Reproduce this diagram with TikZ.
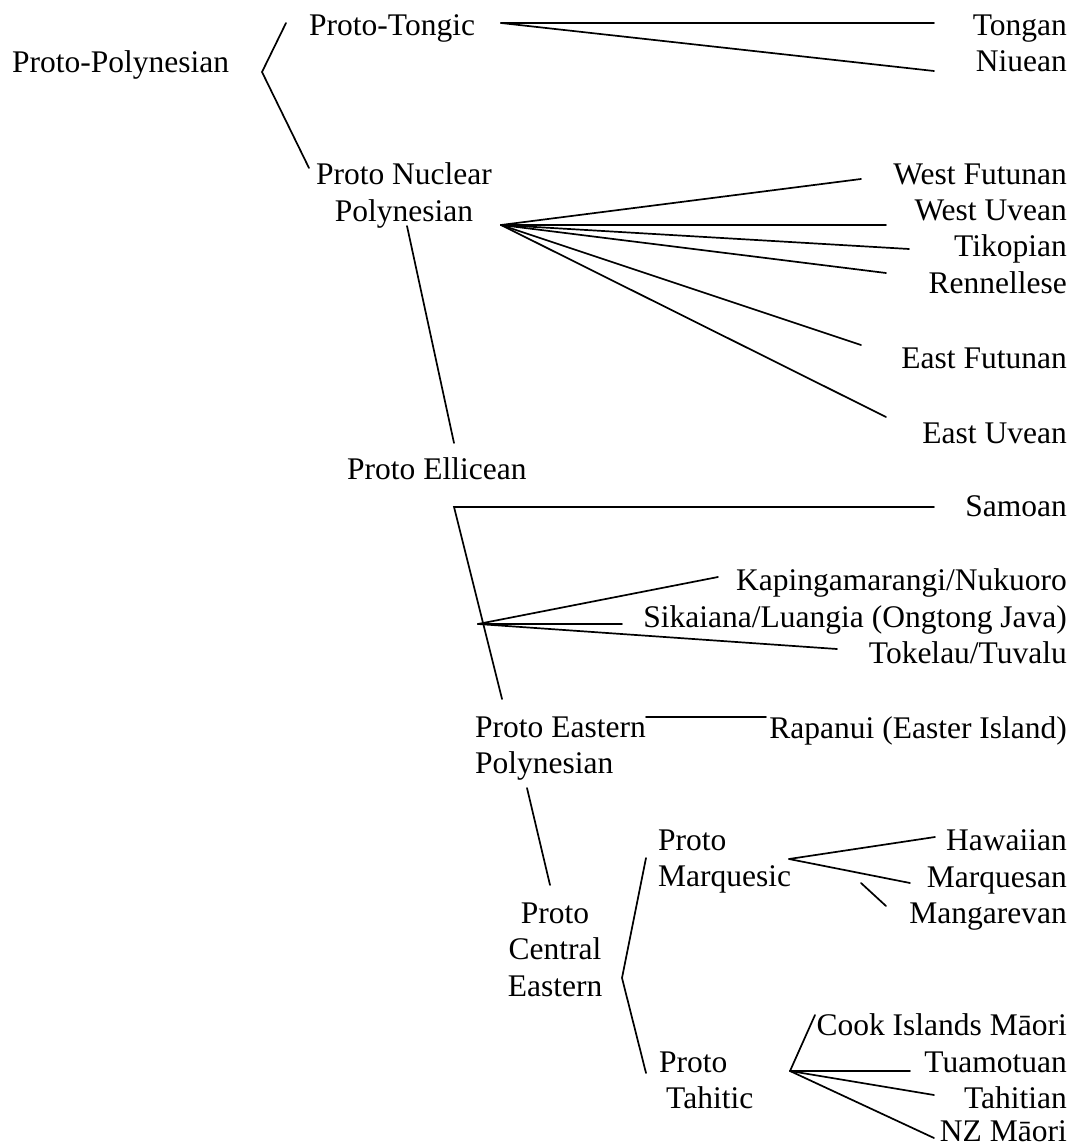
\documentclass[tikz,border=0pt]{standalone}
\usepackage{fontspec}
\setmainfont{Liberation Serif}
\newcommand{\stkc}[1]{\begin{tabular}[t]{@{}c@{}}#1\end{tabular}}
\newcommand{\stkl}[1]{\begin{tabular}[t]{@{}l@{}}#1\end{tabular}}
\tikzset{
  lang/.style={inner sep=0pt, font=\fontsize{31.5}{36.5}\selectfont},
  leaf/.style={lang, anchor=base east},
  branch/.style={line width=1.7pt, line cap=round, line join=miter}
}
\begin{document}
\begin{tikzpicture}[x=1pt,y=-1pt]
\useasboundingbox (0,0) rectangle (1076,1147);
% nodes
\node[lang, anchor=base west] (pp) at (12,73) {Proto-Polynesian};
\node[lang, anchor=base west] (pt) at (309,36) {Proto-Tongic};
\node[leaf] (tongan) at (1067,36) {Tongan};
\node[leaf] (niuean) at (1067,72) {Niuean};
\node[lang, anchor=base] (pnp) at (404,185) {\stkc{Proto Nuclear\\Polynesian}};
\node[leaf] (wf) at (1067,185) {West Futunan};
\node[leaf] (wu) at (1067,221) {West Uvean};
\node[leaf] (tik) at (1067,257) {Tikopian};
\node[leaf] (ren) at (1067,294) {Rennellese};
\node[leaf] (ef) at (1067,368) {East Futunan};
\node[leaf] (eu) at (1067,443) {East Uvean};
\node[lang, anchor=base west] (pe) at (347,479) {Proto Ellicean};
\node[leaf] (sam) at (1067,516) {Samoan};
\node[leaf] (kap) at (1067,590) {Kapingamarangi/Nukuoro};
\node[leaf] (sik) at (1067,627) {Sikaiana/Luangia (Ongtong Java)};
\node[leaf] (tok) at (1067,663) {Tokelau/Tuvalu};
\node[lang, anchor=base west] (pep) at (475,737) {\stkl{Proto Eastern\\Polynesian}};
\node[leaf] (rap) at (1067,738) {Rapanui (Easter Island)};
\node[lang, anchor=base] (pce) at (555,923) {\stkc{Proto\\Central\\Eastern}};
\node[lang, anchor=base west] (pm) at (658,850) {\stkl{Proto\\Marquesic}};
\node[leaf] (haw) at (1067,850) {Hawaiian};
\node[leaf] (mqs) at (1067,887) {Marquesan};
\node[leaf] (mgr) at (1067,923) {Mangarevan};
\node[lang, anchor=base west] (ptah) at (659,1072) {\stkl{Proto\\\hspace*{7pt}Tahitic}};
\node[leaf] (cook) at (1067,1035) {Cook Islands Māori};
\node[leaf] (tua) at (1067,1072) {Tuamotuan};
\node[leaf] (tah) at (1067,1108) {Tahitian};
\node[leaf] (nzm) at (1067,1141) {NZ Māori};
% connector points
\coordinate (ppTop) at (286,23);
\coordinate (ppV) at (262,72);
\coordinate (ppBot) at (309,168);
\coordinate (ptH) at (501,23);
\coordinate (tonE) at (934,23);
\coordinate (niuE) at (934,71);
\coordinate (npH) at (501,225);
\coordinate (wfE) at (861,179);
\coordinate (wuE) at (886,225);
\coordinate (tikE) at (909,249);
\coordinate (renE) at (886,273);
\coordinate (efE) at (861,345);
\coordinate (euE) at (886,417);
\coordinate (npD) at (407,226);
\coordinate (peU) at (454,443);
\coordinate (elC) at (454,507);
\coordinate (samE) at (934,507);
\coordinate (elD) at (502,699);
\coordinate (elH) at (478,624);
\coordinate (kapE) at (718,577);
\coordinate (sikE) at (622,624);
\coordinate (tokE) at (837,649);
\coordinate (rapS) at (646,717);
\coordinate (rapE) at (766,717);
\coordinate (pepD) at (527,788);
\coordinate (pceU) at (550,885);
\coordinate (brTop) at (646,858);
\coordinate (brV) at (622,978);
\coordinate (brBot) at (646,1073);
\coordinate (pmH) at (789,859);
\coordinate (hawE) at (935,837);
\coordinate (mqsE) at (910,883);
\coordinate (mgrS) at (861,883);
\coordinate (mgrE) at (886,906);
\coordinate (ptH2) at (790,1071);
\coordinate (cookE) at (815,1015);
\coordinate (tuaE) at (910,1071);
\coordinate (tahE) at (934,1095);
\coordinate (nzE) at (934,1138);
% connectors
\draw[branch] (ppTop) -- (ppV) -- (ppBot);
\draw[branch] (ptH) -- (tonE);
\draw[branch] (ptH) -- (niuE);
\foreach \e in {wfE,wuE,tikE,renE,efE,euE} \draw[branch] (npH) -- (\e);
\draw[branch] (npD) -- (peU);
\draw[branch] (samE) -- (elC) -- (elD);
\foreach \e in {kapE,sikE,tokE} \draw[branch] (elH) -- (\e);
\draw[branch] (rapS) -- (rapE);
\draw[branch] (pepD) -- (pceU);
\draw[branch] (brTop) -- (brV) -- (brBot);
\draw[branch] (pmH) -- (hawE);
\draw[branch] (pmH) -- (mqsE);
\draw[branch] (mgrS) -- (mgrE);
\foreach \e in {cookE,tuaE,tahE,nzE} \draw[branch] (ptH2) -- (\e);
\end{tikzpicture}
\end{document}
